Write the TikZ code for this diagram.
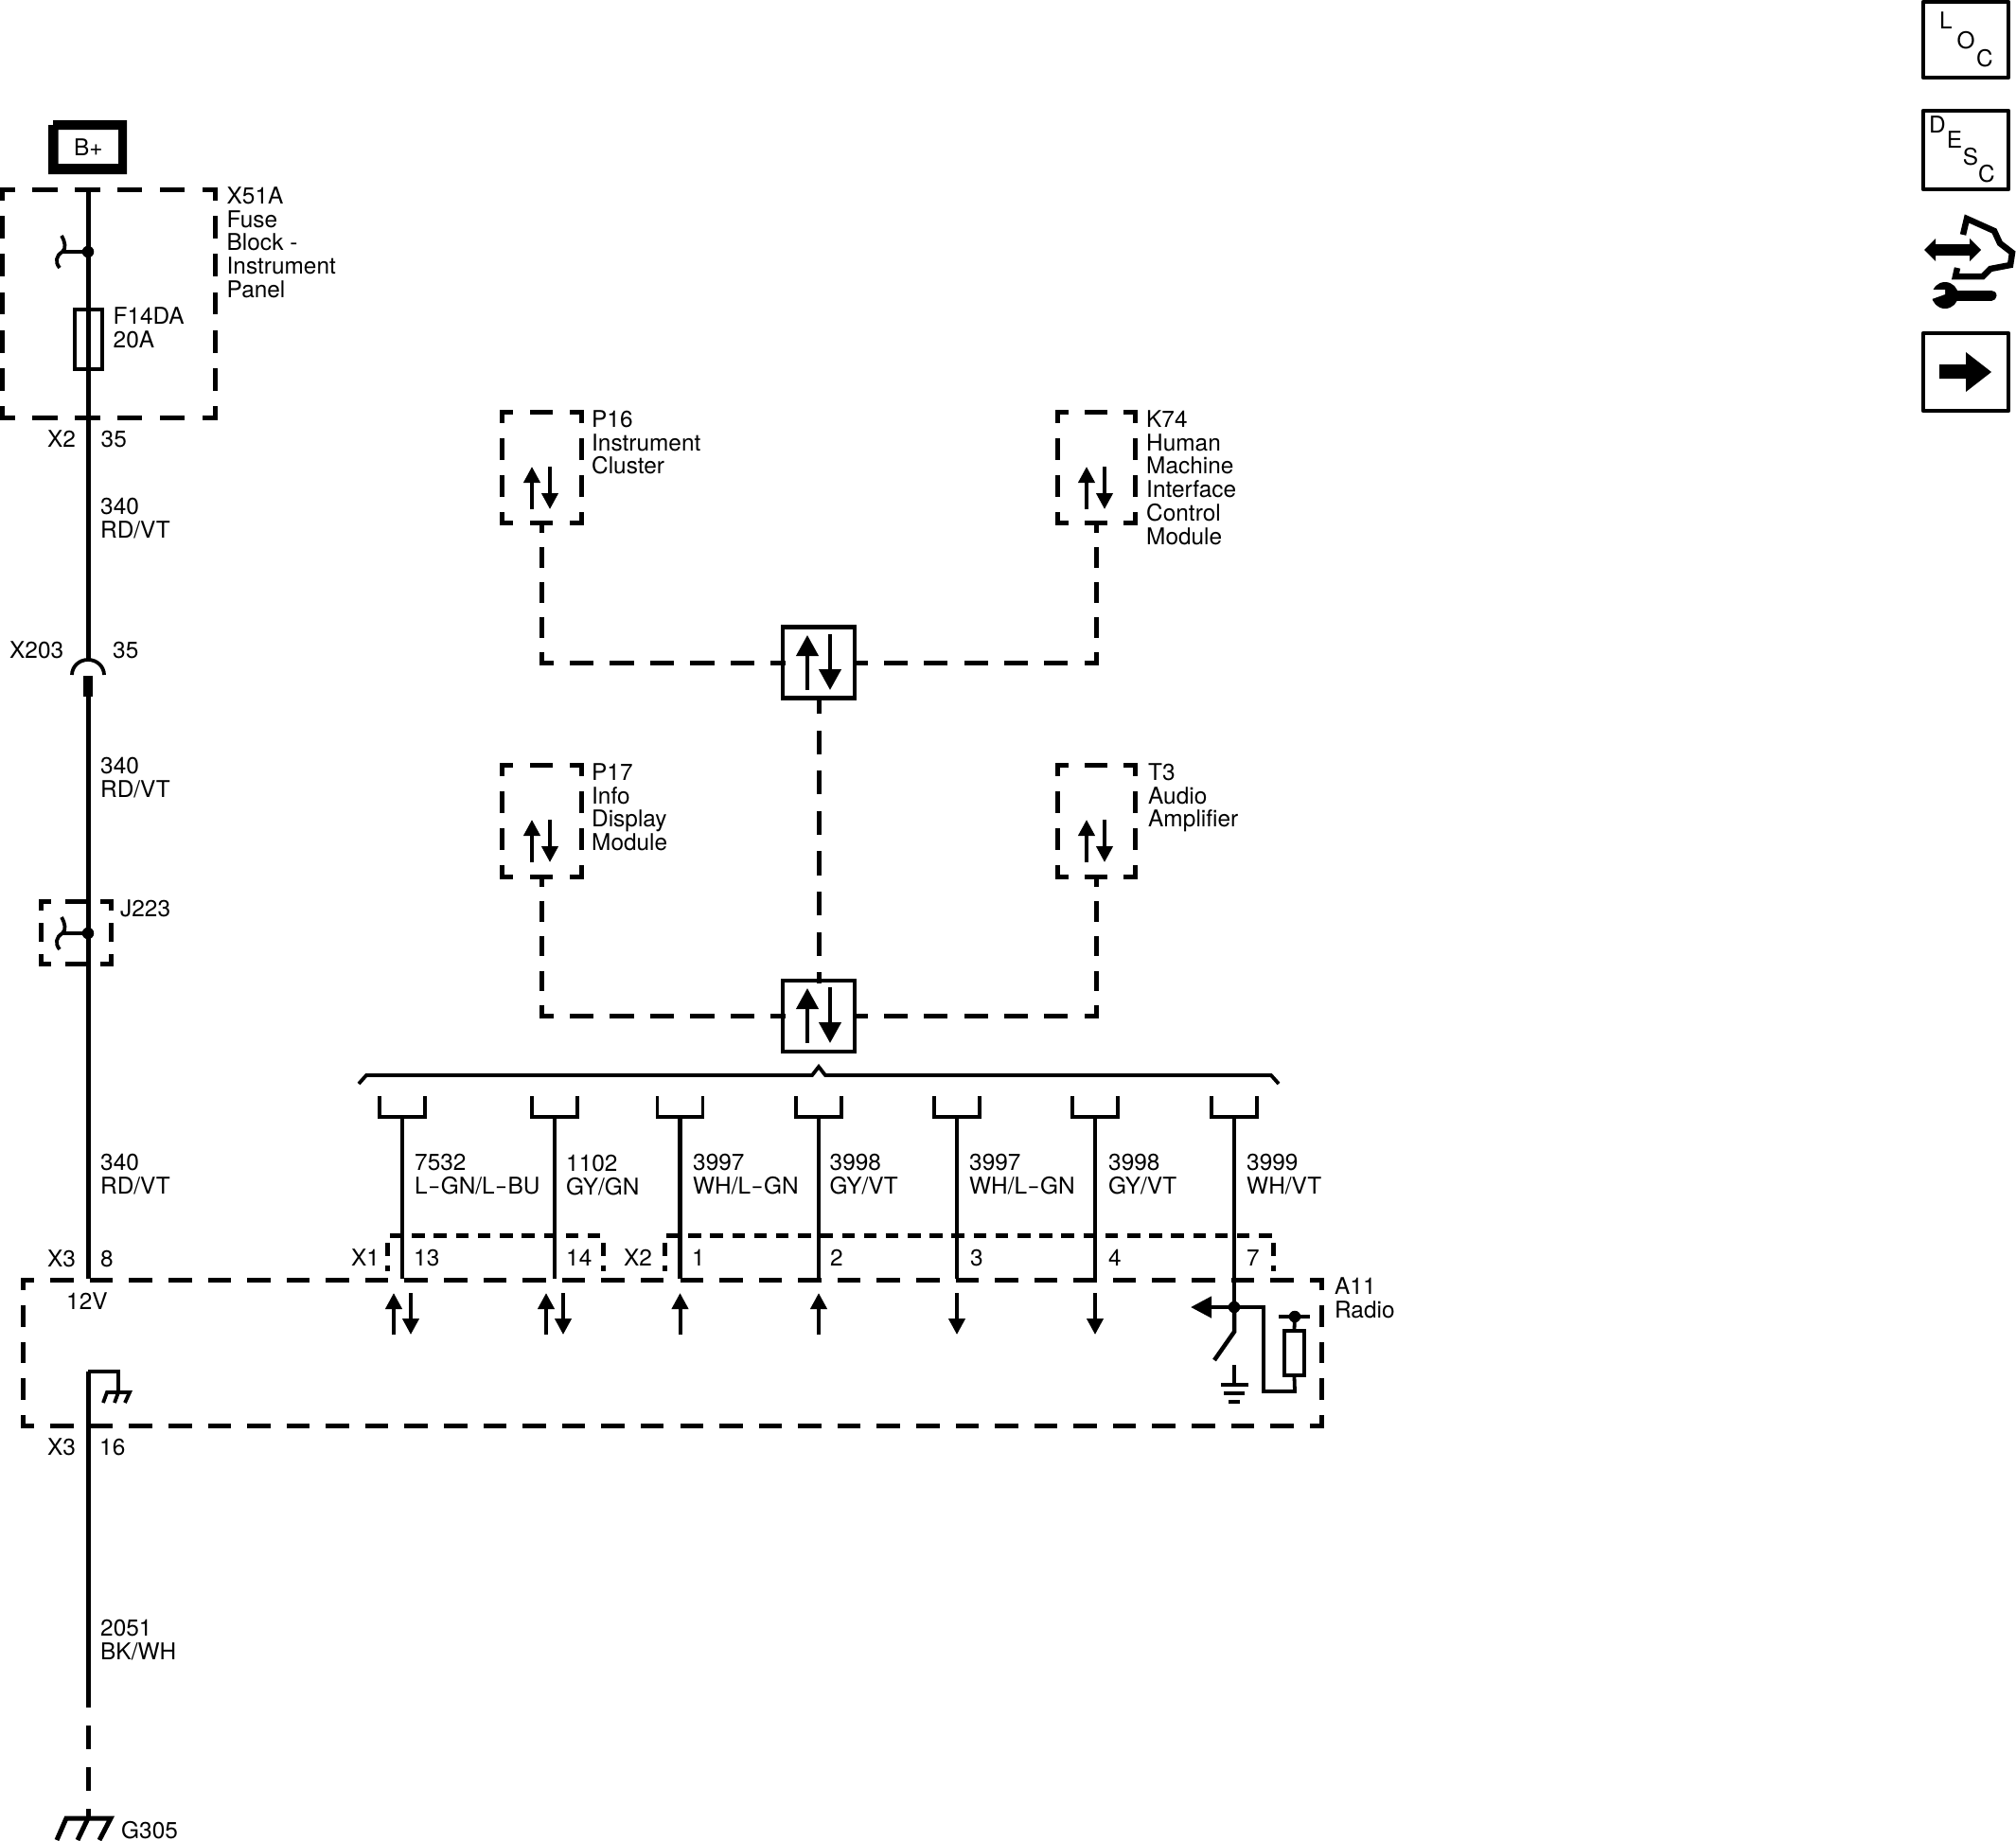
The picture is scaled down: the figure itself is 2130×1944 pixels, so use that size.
\documentclass[tikz,border=0pt]{standalone}
\usepackage{fontspec}
\setmainfont{TeX Gyre Heros}
\usetikzlibrary{arrows.meta,calc}
\newcommand\hy{\kern0.5pt\scalebox{1.6}[1]{-}\kern0.5pt}
\tikzset{
  lbl/.style={font=\fontsize{24.4}{24.8}\selectfont,align=left,inner sep=0pt,anchor=north west,yshift=18pt,text=black},
  letter/.style={font=\fontsize{24.4}{24.8}\selectfont,inner sep=0pt},
  wire/.style={line width=5pt},
  thinw/.style={line width=3.8pt},
  sig/.style={line width=4.5pt},
  iconbox/.style={draw,line width=4.4pt,line join=round,inner sep=0pt},
  dsh/.style={line width=5pt,line cap=rect,
    /utils/exec={\pgfmathsetmacro\dsa{0.59*#1-5}\pgfmathsetmacro\dsb{0.41*#1+5}\pgfmathsetmacro\dsp{0.295*#1-2.5}},
    dash pattern=on \dsa pt off \dsb pt,dash phase=\dsp pt},
  smallh/.style={line width=5pt,dash pattern=on 13.5pt off 9.72pt},
  smallv/.style={line width=5pt,dash pattern=on 13.5pt off 10pt},
  sarrow/.style={line width=4pt,-{Triangle[length=17pt,width=17pt]}},
  barrow/.style={line width=4pt,-{Triangle[length=22pt,width=23pt]}},
  splice/.style={draw,line width=4.4pt,minimum width=76pt,minimum height=75pt,inner sep=0pt,outer sep=0pt},
  jdot/.style={circle,fill=black,inner sep=0pt,minimum size=12.5pt},
}
% labels: name, x, baseline y, text
\newcommand\lb[4]{\node[lbl] (#1) at (#2,#3) {\rule{0pt}{18pt}#4};}
% dashed box: name, x1, y1, x2, y2, n horizontal, n vertical
\newcommand\modbox[7]{%
  \pgfmathsetmacro\dbw{#4-#2}\pgfmathsetmacro\dbh{#5-#3}%
  \pgfmathsetmacro\dbpw{(#4-#2)/#6}\pgfmathsetmacro\dbph{(#5-#3)/#7}%
  \node[minimum width=\dbw pt,minimum height=\dbh pt,inner sep=0pt,outer sep=0pt] (#1) at ({(#2+#4)/2},{(#3+#5)/2}) {};
  \draw[dsh=\dbpw] (#1.north west) -- (#1.north east);
  \draw[dsh=\dbpw] (#1.south west) -- (#1.south east);
  \draw[dsh=\dbph] (#1.north west) -- (#1.south west);
  \draw[dsh=\dbph] (#1.north east) -- (#1.south east);
}
% fusible joint symbol at vertical offset
\newcommand\fusj[2]{%
  \begin{scope}[shift={(0,#2)}]
    \node[jdot] (#1) at (93,266) {};
    \draw[thinw] (#1.center) -- (67,266);
    \draw[thinw] (65,249) .. controls (69,256) and (70,262) .. (66,266) .. controls (59,270) and (58,277) .. (63,283);
  \end{scope}}
% double arrow pair inside module boxes
\newcommand\arrowpair[4]{%
  \draw[sarrow] (#1,#4) -- (#1,#3);
  \draw[sarrow] (#2,#3) -- (#2,#4);}
% connector pin: name, x
\newcommand\pinwire[2]{%
  \coordinate (#1u) at (#2,1180);
  \coordinate (#1p) at (#2,1351);
  \draw[thinw,line join=miter] (#2-24,1158) -- (#2-24,1180) -- (#2+24,1180) -- (#2+24,1158);
  \draw[sig] (#1u) -- (#1p);}
\begin{document}
\begin{tikzpicture}[x=1pt,y=-1pt]
\useasboundingbox (0,0) rectangle (2130,1944);
\fill[white] (0,0) rectangle (2130,1944);

% ---- dashed module boxes
\modbox{x51a}{2.5}{200}{227}{441}{5}{6}
\modbox{jtwo}{43}{952}{117}{1018}{2}{2}
\modbox{ptop}{530}{435}{614}{552}{2}{3}
\modbox{ktop}{1117}{435}{1199}{552}{2}{3}
\modbox{pbot}{530}{808}{614}{926}{2}{3}
\modbox{tbot}{1117}{808}{1199}{926}{2}{3}
\modbox{radio}{24}{1352}{1396}{1506}{33}{4}

% ---- battery feed
\path[fill=black,even odd rule] (56,127) -- (134,127) -- (134,184) -- (51,184) -- (51,132) -- (56,132) -- cycle
   (61.5,137) rectangle (125,173);
\lb{bp}{78}{164}{B+}
\coordinate (wtop) at (93,200);
\coordinate (arc) at (93,697);
\coordinate (male) at (93,736);
\coordinate (xthree) at (93,1351);
\coordinate (gndtop) at (93,1449);
\coordinate (dend) at (93,1804);
\coordinate (gtop) at (93,1921);
\draw[wire] (wtop) -- (arc);
\draw[wire] (male) -- (xthree);
\draw[wire] (gndtop) -- (dend);
\draw[line width=5pt,dash pattern=on 25pt off 19pt,dash phase=25pt] (dend) -- (gtop);
\fusj{sjone}{0}
\fusj{sjtwo}{720}
% fuse
\node[draw,line width=3.8pt,minimum width=29pt,minimum height=63pt,inner sep=0pt] (fuse) at (93.5,358.5) {};
% X203 connector
\draw[thinw] (76,713) arc[start angle=180,end angle=360,x radius=17,y radius=16];
\fill (88,714) rectangle (98,736);
% grounds
\draw[thinw,line join=miter] (gndtop) -- (125,1449) -- (125,1471);
\draw[thinw,line join=miter] (109,1482) -- (113,1471) -- (137,1471) -- (132,1482);
\draw[thinw] (125,1471) -- (121,1482);
\draw[line width=5pt,line join=miter] (60,1944) -- (70,1921) -- (117,1921) -- (105,1944);
\draw[line width=5pt] (93,1921) -- (82,1944);

% ---- data bus
\node[splice] (spu) at (865,700) {};
\node[splice] (spl) at (865,1073.5) {};
\draw[barrow] (853,729) -- (853,671);
\draw[barrow] (877,670) -- (877,729);
\draw[barrow] (853,1102) -- (853,1044);
\draw[barrow] (877,1043) -- (877,1102);
\arrowpair{562}{581}{493}{538}
\arrowpair{1148}{1167}{493}{538}
\arrowpair{562}{581}{866}{911}
\arrowpair{1148}{1167}{866}{911}
\coordinate (c1) at (ptop.south |- spu.west);
\coordinate (c2) at (ktop.south |- spu.east);
\coordinate (c3) at (pbot.south |- spl.west);
\coordinate (c4) at (tbot.south |- spl.east);
\draw[dsh=37] (ptop.south) -- (c1);
\draw[dsh=42.5] (c1) -- (spu.west);
\draw[dsh=37] (ktop.south) -- (c2);
\draw[dsh=42.3] (c2) -- (spu.east);
\draw[dsh=36.8] (pbot.south) -- (c3);
\draw[dsh=42.5] (c3) -- (spl.west);
\draw[dsh=36.8] (tbot.south) -- (c4);
\draw[dsh=42.3] (c4) -- (spl.east);
\draw[dsh=42.6,dash phase=6pt] (spu.south) -- (spl.north);

% bracket
\draw[thinw,line join=miter] (379,1145) -- (387,1136) -- (858,1136) -- (865,1127) -- (872,1136) -- (1343,1136) -- (1351,1145);

% pins
\pinwire{wa}{425}
\pinwire{wb}{586}
\pinwire{wc}{718.5}
\pinwire{wd}{865}
\pinwire{we}{1011}
\pinwire{wf}{1157}
\pinwire{wg}{1304}

% X1 / X2 connector outlines
\draw[smallh] (412,1305) -- (635.5,1305);
\draw[smallv] (409,1313) -- (409,1343);
\draw[smallv] (637,1313) -- (637,1343);
\draw[line width=5pt,dash pattern=on 13.5pt off 9.69pt] (704,1305) -- (1343.5,1305);
\draw[smallv] (702,1313) -- (702,1343);
\draw[smallv] (1345,1313) -- (1345,1343);

% signal arrows
\arrowpair{416}{434}{1366}{1410}
\arrowpair{577}{595}{1366}{1410}
\draw[sarrow] (718.5,1410) -- (718.5,1366);
\draw[sarrow] (865,1410) -- (865,1366);
\draw[sarrow] (1011,1366) -- (1011,1410);
\draw[sarrow] (1157,1366) -- (1157,1410);

% radio input circuit
\node[jdot] (rj) at (1304,1381) {};
\draw[sig] (wgp) -- (rj.center);
\draw[line width=4.4pt,-{Triangle[length=22pt,width=22pt]}] (rj.center) -- (1258,1381);
\draw[sig,line join=miter] (rj.center) -- (1304,1407) -- (1283,1437);
\draw[line width=4.4pt] (1304,1442) -- (1304,1463);
\draw[line width=4.4pt] (1290,1463) -- (1319,1463);
\draw[line width=4.4pt] (1293,1472) -- (1315,1472);
\draw[line width=4.4pt] (1298,1481) -- (1310,1481);
\node[draw,line width=3.8pt,minimum width=21pt,minimum height=47pt,inner sep=0pt] (res) at (1367.5,1429.5) {};
\node[jdot] (rv) at (1368,1391) {};
\draw[thinw] (1351,1391) -- (1384,1391);
\draw[thinw] (rv.center) -- (res.north);
\draw[thinw,line join=miter] (rj.center) -- (1335,1381) -- (1335,1470) -- (1368,1470) -- (res.south);

% ---- labels
\lb{l1}{239.5}{215}{X51A\\Fuse\\Block -\\Instrument\\Panel}
\lb{l2}{119.5}{342}{F14DA\\20A}
\lb{l3}{50}{472}{X2}
\lb{l4}{106.5}{472}{35}
\lb{l5}{106}{543}{340\\RD/VT}
\lb{l6}{10}{695}{X203}
\lb{l7}{119}{695}{35}
\lb{l8}{106}{817}{340\\RD/VT}
\lb{l9}{127}{968}{J223}
\lb{l10}{106}{1236}{340\\RD/VT}
\lb{l11}{50}{1338}{X3}
\lb{l12}{106}{1338}{8}
\lb{l13}{70}{1383}{12V}
\lb{l14}{50}{1537}{X3}
\lb{l15}{105}{1537}{16}
\lb{l16}{106}{1728}{2051\\BK/WH}
\lb{l17}{128}{1942}{G305}
\lb{p16}{625}{451}{P16\\Instrument\\Cluster}
\lb{k74}{1211}{451}{K74\\Human\\Machine\\Interface\\Control\\Module}
\lb{p17}{625}{824}{P17\\Info\\Display\\Module}
\lb{t3}{1213}{824}{T3\\Audio\\Amplifier}
\lb{w1}{438}{1236}{7532\\L\hy GN/L\hy BU}
\lb{w2}{598}{1237}{1102\\GY/GN}
\lb{w3}{732}{1236}{3997\\WH/L\hy GN}
\lb{w4}{876.5}{1236}{3998\\GY/VT}
\lb{w5}{1024}{1236}{3997\\WH/L\hy GN}
\lb{w6}{1171}{1236}{3998\\GY/VT}
\lb{w7}{1317}{1236}{3999\\WH/VT}
\lb{x1}{371}{1337}{X1}
\lb{p13}{437}{1337}{13}
\lb{p14}{598}{1337}{14}
\lb{x2}{659}{1337}{X2}
\lb{p1}{731}{1337}{1}
\lb{p2}{877}{1337}{2}
\lb{p3}{1025}{1337}{3}
\lb{p4}{1171}{1337}{4}
\lb{p7}{1317}{1337}{7}
\lb{a11}{1410}{1367}{A11\\Radio}

% ---- side icons
\node[iconbox,minimum width=90pt,minimum height=80pt] (loc) at (2077,42) {};
\node[letter] (lL) at (2056,22) {L};
\node[letter] (lO) at (2077,43) {O};
\node[letter] (lC) at (2097,62) {C};
\node[iconbox,minimum width=90pt,minimum height=83pt] (desc) at (2077,158.5) {};
\node[letter] (dD) at (2047,132) {D};
\node[letter] (dE) at (2065,148) {E};
\node[letter] (dS) at (2082,166) {S};
\node[letter] (dC) at (2099,184) {C};
\node[iconbox,minimum width=90pt,minimum height=82pt] (next) at (2077,393) {};
\fill (2049,385) -- (2077,385) -- (2077,372) -- (2104,393) -- (2077,414) -- (2077,400) -- (2049,400) -- cycle;
% service icon
\fill (2033,264) -- (2045,252) -- (2045,258) -- (2081,258) -- (2081,252) -- (2093,264) -- (2081,276) -- (2081,270) -- (2045,270) -- (2045,276) -- cycle;
\draw[line width=6.5pt,line join=miter] (2074,248) -- (2078,231) -- (2107,244) -- (2113,257) -- (2126,267) -- (2124,280) -- (2103,284) -- (2095,292) -- (2066,292) -- (2068,283);
\draw[line width=11pt,line cap=round] (2060,312) -- (2104,312);
\fill (2055,312) circle[radius=14];
\fill[white] (2040,306) -- (2055,306) -- (2055,311) -- (2041,316) -- cycle;
\end{tikzpicture}
\end{document}
